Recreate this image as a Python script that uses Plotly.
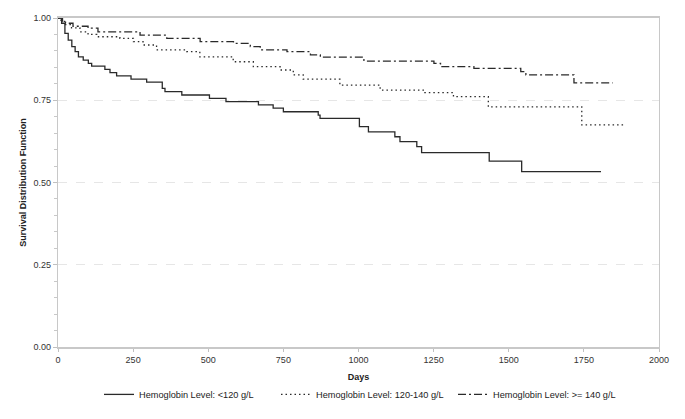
import plotly.graph_objects as go

# <120 g/L
low_days = [0, 12, 23, 34, 46, 57, 68, 84, 101, 112, 156, 173, 195, 243, 295, 347, 356, 412, 504, 559,
            667, 716, 750, 866, 872, 1003, 1033, 1121, 1138, 1194, 1210, 1435, 1543, 1807]
low_surv = [1.0, 0.984, 0.953, 0.933, 0.913, 0.898, 0.882, 0.872, 0.862, 0.854, 0.844, 0.834, 0.824, 0.814,
            0.805, 0.786, 0.776, 0.766, 0.756, 0.746, 0.736, 0.726, 0.715, 0.705, 0.695, 0.670, 0.654,
            0.639, 0.624, 0.609, 0.591, 0.565, 0.533, 0.533]

# 120-140 g/L
mid_days = [0, 10, 25, 45, 73, 100, 129, 206, 251, 283, 328, 428, 472, 583, 650, 739, 783, 816, 938,
            1072, 1221, 1316, 1432, 1743, 1885]
mid_surv = [1.0, 0.99, 0.98, 0.97, 0.958, 0.950, 0.943, 0.938, 0.928, 0.918, 0.903, 0.898, 0.882, 0.867,
            0.852, 0.842, 0.827, 0.814, 0.796, 0.781, 0.773, 0.761, 0.730, 0.675, 0.675]

# >=140 g/L
high_days = [0, 15, 25, 50, 100, 133, 273, 362, 473, 584, 640, 673, 762, 840, 873, 1018, 1251, 1273,
             1384, 1540, 1557, 1717, 1846]
high_surv = [1.0, 0.99, 0.984, 0.975, 0.969, 0.958, 0.948, 0.938, 0.928, 0.923, 0.913, 0.903, 0.898,
             0.888, 0.881, 0.869, 0.862, 0.852, 0.847, 0.837, 0.827, 0.803, 0.803]

names = ["Hemoglobin Level: <120 g/L", "Hemoglobin Level: 120-140 g/L", "Hemoglobin Level: >= 140 g/L"]

x_ticks = [0, 250, 500, 750, 1000, 1250, 1500, 1750, 2000]
y_ticks = [0.0, 0.25, 0.5, 0.75, 1.0]

fig = go.Figure()
for d, s, n, dash in [(low_days, low_surv, names[0], "solid"),
                      (mid_days, mid_surv, names[1], "1.5px,3px"),
                      (high_days, high_surv, names[2], "8px,3px,2px,3px")]:
    fig.add_trace(go.Scatter(x=d, y=s, name=n, mode="lines", line_shape="hv",
                             line=dict(color="#2a2a2a", width=1.3, dash=dash)))

font = "Liberation Sans, Arial, sans-serif"
fig.update_layout(
    width=685, height=419,
    margin=dict(l=58, r=26, t=18, b=72, autoexpand=False),
    plot_bgcolor="white", paper_bgcolor="white",
    font=dict(family=font, size=9, color="#333333"),
    showlegend=True,
    legend=dict(orientation="h", x=0.51, xanchor="center", y=-0.1, yanchor="top",
                font=dict(size=9.2, color="#222222"), itemwidth=30, tracegroupgap=0,
                entrywidth=132),
    xaxis=dict(range=[0, 2000], tickvals=x_ticks, ticks="outside", ticklen=3, tickcolor="#c0c0c0",
               showline=True, linecolor="#c8c8c8", linewidth=1.5, mirror=True, showgrid=False,
               zeroline=False, automargin=False,
               title=dict(text="<b>Days</b>", font=dict(size=9, color="#222222"), standoff=10)),
    yaxis=dict(range=[0, 1.0], tickvals=y_ticks, tickformat=".2f", ticks="outside", ticklen=4,
               tickcolor="#c0c0c0", showline=True, linecolor="#c8c8c8", linewidth=1.2, mirror=True,
               showgrid=True, gridcolor="#e6e6e6", griddash="dash", gridwidth=1, zeroline=False,
               automargin=False,
               minor=dict(dtick=0.05, ticks="outside", ticklen=3, tickcolor="#c8c8c8", showgrid=False),
               title=dict(text="<b>Survival Distribution Function</b>", font=dict(size=9, color="#222222"),
                          standoff=5)),
)

fig.write_html("out.html", config={"displayModeBar": False},
               post_script="document.body.style.margin='0';document.body.style.overflow='hidden';")
